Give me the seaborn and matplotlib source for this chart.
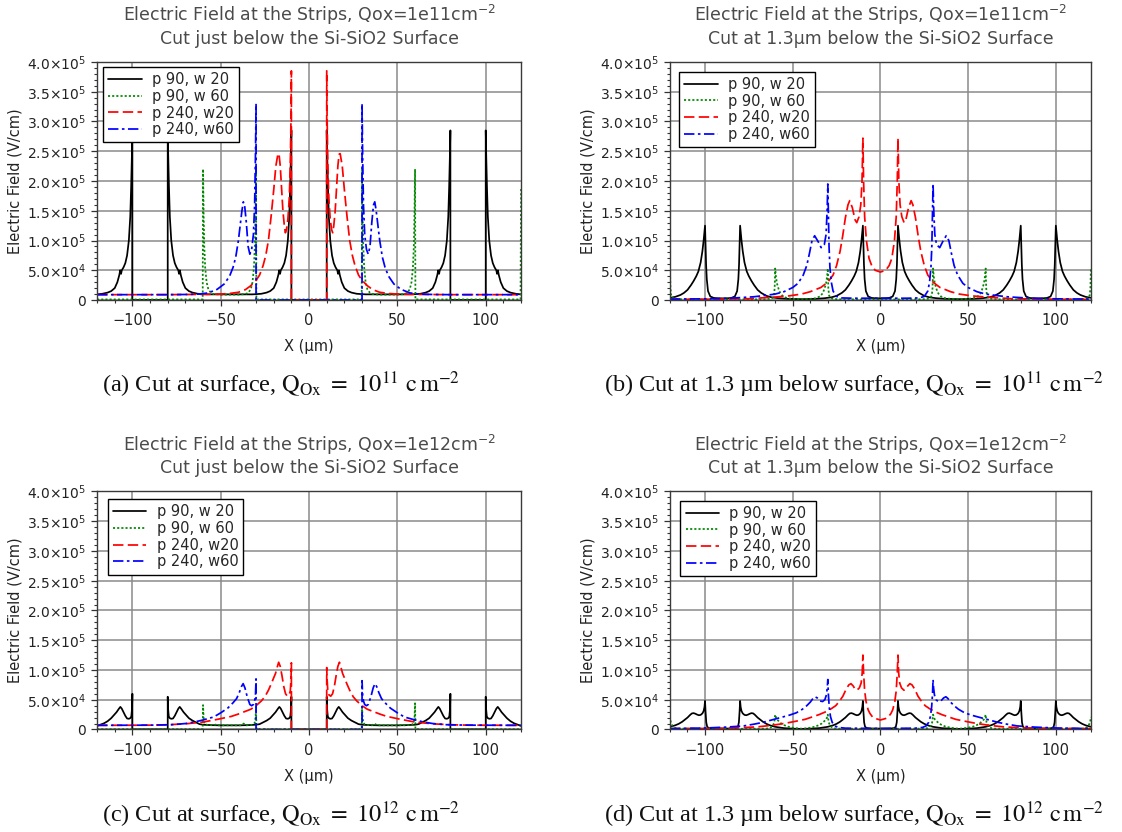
import matplotlib
matplotlib.use("Agg")
import matplotlib.pyplot as plt
from matplotlib.ticker import MultipleLocator
import pandas as pd
import seaborn as sns

# ---------------------------------------------------------------------------
# Electric field profiles, (x [um], E [kV/cm]) along the cut line
# ---------------------------------------------------------------------------
SERIES = ["p 90, w 20", "p 90, w 60", "p 240, w20", "p 240, w60"]
COLORS = ["#000000", "#008800", "#ff0000", "#0000ff"]
DASHES = ["", (1.2, 1.2), (6, 2.5), (6, 2, 1.5, 2)]

X_TICKS = [-100, -50, 0, 50, 100]
Y_TICKS = [0, 5e4, 1e5, 1.5e5, 2e5, 2.5e5, 3e5, 3.5e5, 4e5]
Y_TICK_LABELS = ["0", "5.0×10$^{4}$", "1.0×10$^{5}$", "1.5×10$^{5}$", "2.0×10$^{5}$",
                 "2.5×10$^{5}$", "3.0×10$^{5}$", "3.5×10$^{5}$", "4.0×10$^{5}$"]

# (a) Qox = 1e11, surface
A_P90_W20 = [(-120, 9.5), (-117, 10.5), (-114, 12.5), (-112, 15), (-110, 20), (-108.5, 30), (-107.4, 42), (-106.9, 50), (-106.4, 44), (-106, 50), (-105, 55), (-104, 62), (-103, 75), (-102, 100), (-101.2, 140), (-100.7, 190), (-100.3, 240), (-100, 285), (-100, 0),
             (-80, 0), (-80, 285), (-79.7, 240), (-79.3, 190), (-78.8, 140), (-78, 100), (-77, 75), (-76, 62), (-75, 55), (-74, 50), (-73.6, 44), (-73.1, 50), (-72.6, 42), (-71.5, 30), (-70, 20), (-68, 15), (-66, 12.5), (-63, 10.5), (-58, 9.5),
             (-32, 9.5), (-27, 10.5), (-24, 12.5), (-22, 15), (-20, 20), (-18.5, 30), (-17.4, 42), (-16.9, 50), (-16.4, 44), (-16, 50), (-15, 55), (-14, 62), (-13, 75), (-12, 100), (-11.2, 140), (-10.7, 190), (-10.3, 240), (-10, 285), (-10, 0),
             (10, 0), (10, 285), (10.3, 240), (10.7, 190), (11.2, 140), (12, 100), (13, 75), (14, 62), (15, 55), (16, 50), (16.4, 44), (16.9, 50), (17.4, 42), (18.5, 30), (20, 20), (22, 15), (24, 12.5), (27, 10.5), (32, 9.5),
             (58, 9.5), (63, 10.5), (66, 12.5), (68, 15), (70, 20), (71.5, 30), (72.6, 42), (73.1, 50), (73.6, 44), (74, 50), (75, 55), (76, 62), (77, 75), (78, 100), (78.8, 140), (79.3, 190), (79.7, 240), (80, 285), (80, 0),
             (100, 0), (100, 285), (100.3, 240), (100.7, 190), (101.2, 140), (102, 100), (103, 75), (104, 62), (105, 55), (106, 50), (106.4, 44), (106.9, 50), (107.4, 42), (108.5, 30), (110, 20), (112, 15), (114, 12.5), (117, 10.5), (120, 9.5)]
A_P90_W60 = [(-120, 1), (-60.2, 1), (-60, 220), (-59.7, 150), (-59.3, 90), (-58.8, 55), (-58, 30), (-57, 18), (-55.5, 12), (-54, 10), (-50, 9), (-40, 9), (-36, 10), (-34.5, 12), (-33, 18), (-32, 30), (-31.2, 55), (-30.7, 90), (-30.3, 150), (-30, 220), (-29.8, 1),
             (29.8, 1), (30, 220), (30.3, 150), (30.7, 90), (31.2, 55), (32, 30), (33, 18), (34.5, 12), (36, 10), (40, 9), (50, 9), (54, 10), (55.5, 12), (57, 18), (58, 30), (58.8, 55), (59.3, 90), (59.7, 150), (60, 220), (60.2, 1), (119.7, 1), (120, 190)]
A_P240_W20 = [(-120, 9), (-80, 9), (-60, 9.5), (-50, 10), (-45, 11), (-40, 13), (-36, 17.5), (-33, 24), (-30, 33), (-28, 42), (-26, 58), (-24.5, 75), (-23, 100), (-21.5, 140), (-20, 185), (-18.8, 225), (-17.6, 246), (-17, 245), (-16.3, 225), (-15.5, 185), (-14.8, 150), (-14, 125), (-13.4, 113), (-12.8, 118), (-12, 135), (-11.2, 170), (-10.6, 230), (-10.2, 310), (-10, 385), (-10, 0),
              (10, 0), (10, 385), (10.2, 310), (10.6, 230), (11.2, 170), (12, 135), (12.8, 118), (13.4, 113), (14, 125), (14.8, 150), (15.5, 185), (16.3, 225), (17, 245), (17.6, 246), (18.8, 225), (20, 185), (21.5, 140), (23, 100), (24.5, 75), (26, 58), (28, 42), (30, 33), (33, 24), (36, 17.5), (40, 13), (45, 11), (50, 10), (60, 9.5), (80, 9), (120, 9)]
A_P240_W60 = [(-120, 9), (-80, 9), (-70, 9.3), (-62, 10), (-57, 12), (-52, 18), (-48, 27), (-45, 40), (-43, 55), (-41.5, 72), (-40, 100), (-39, 125), (-38, 150), (-37.2, 165), (-36.5, 160), (-35.5, 130), (-34.5, 90), (-33.5, 77), (-32.5, 85), (-31.5, 110), (-30.8, 160), (-30.3, 250), (-30, 330), (-30, 0),
              (30, 0), (30, 330), (30.3, 250), (30.8, 160), (31.5, 110), (32.5, 85), (33.5, 77), (34.5, 90), (35.5, 130), (36.5, 160), (37.2, 165), (38, 150), (39, 125), (40, 100), (41.5, 72), (43, 55), (45, 40), (48, 27), (52, 18), (57, 12), (62, 10), (70, 9.3), (80, 9), (120, 9)]

# (b) Qox = 1e11, 1.3 um below surface
B_P90_W20 = [(-120, 3.7), (-117, 5.3), (-114, 8.5), (-112, 12), (-110, 17), (-108, 25), (-106.5, 32), (-105, 40), (-103.8, 48), (-102.5, 63), (-101.5, 82), (-100.8, 100), (-100.3, 115), (-100, 125),
             (-99.7, 95), (-99.4, 60), (-99, 35), (-98.3, 15), (-97, 6), (-95, 3.5), (-93, 3), (-90, 2.8), (-87, 3), (-85, 3.5), (-83, 6), (-81.7, 15), (-81, 35), (-80.6, 60), (-80.3, 95), (-80, 125),
             (-79.7, 115), (-79.2, 100), (-78.5, 82), (-77.5, 63), (-76.2, 48), (-75, 40), (-73.5, 32), (-72, 25), (-70, 17), (-68, 12), (-65, 7), (-62, 4.5), (-58, 3), (-53, 2), (-45, 1.5), (-37, 2), (-32, 3), (-28, 4.5), (-25, 7), (-22, 12), (-20, 17), (-18, 25), (-16.5, 32), (-15, 40), (-13.8, 48), (-12.5, 63), (-11.5, 82), (-10.8, 100), (-10.3, 115), (-10, 125),
             (-9.7, 95), (-9.4, 60), (-9, 35), (-8.3, 15), (-7, 6), (-5, 3.5), (-3, 3), (0, 2.8), (3, 3), (5, 3.5), (7, 6), (8.3, 15), (9, 35), (9.4, 60), (9.7, 95), (10, 125),
             (10.3, 115), (10.8, 100), (11.5, 82), (12.5, 63), (13.8, 48), (15, 40), (16.5, 32), (18, 25), (20, 17), (22, 12), (25, 7), (28, 4.5), (32, 3), (37, 2), (45, 1.5), (53, 2), (58, 3), (62, 4.5), (65, 7), (68, 12), (70, 17), (72, 25), (73.5, 32), (75, 40), (76.2, 48), (77.5, 63), (78.5, 82), (79.2, 100), (79.7, 115), (80, 125),
             (80.3, 95), (80.6, 60), (81, 35), (81.7, 15), (83, 6), (85, 3.5), (87, 3), (90, 2.8), (93, 3), (95, 3.5), (97, 6), (98.3, 15), (99, 35), (99.4, 60), (99.7, 95), (100, 125),
             (100.3, 115), (100.8, 100), (101.5, 82), (102.5, 63), (103.8, 48), (105, 40), (106.5, 32), (108, 25), (110, 17), (112, 12), (114, 8.5), (117, 5.3), (120, 3.7)]
B_P90_W60 = [(-120, 53), (-119.7, 20), (-119.3, 8), (-118.5, 3.5), (-117, 2), (-114, 1.3), (-100, 1), (-80, 1), (-66, 1.3), (-63, 2), (-61.5, 3.5), (-60.7, 8), (-60.3, 20), (-60, 53), (-59.6, 40), (-59, 28), (-58, 18), (-57, 11), (-55.5, 6), (-53, 3), (-50, 2), (-45, 1.8), (-40, 2), (-37, 3), (-34.5, 6), (-33, 11), (-32, 18), (-31, 28), (-30.4, 40), (-30, 53),
             (-29.7, 20), (-29.3, 8), (-28.5, 3.5), (-27, 2), (-24, 1.3), (-10, 1), (10, 1), (24, 1.3), (27, 2), (28.5, 3.5), (29.3, 8), (29.7, 20), (30, 53), (30.4, 40), (31, 28), (32, 18), (33, 11), (34.5, 6), (37, 3), (40, 2), (45, 1.8), (50, 2), (53, 3), (55.5, 6), (57, 11), (58, 18), (59, 28), (59.6, 40), (60, 53),
             (60.3, 20), (60.7, 8), (61.5, 3.5), (63, 2), (66, 1.3), (80, 1), (100, 1), (114, 1.3), (117, 2), (118.5, 3.5), (119.3, 8), (119.7, 20), (120, 53)]
B_P240_W20 = [(-120, 1), (-100, 1.3), (-75, 2.2), (-60, 5), (-52, 7), (-45, 10), (-40, 14), (-34, 21), (-30, 30), (-27, 42), (-25, 58), (-23, 82), (-21.5, 108), (-20, 138), (-18.5, 160), (-17.5, 167), (-16, 155), (-14.5, 135), (-13.5, 130), (-12.2, 140), (-11.2, 160), (-10.5, 200), (-10, 272), (-9.6, 200), (-9, 140), (-8, 100), (-6.5, 70), (-5, 58), (-3, 50),
              (0, 47), (3, 50), (5, 58), (6.5, 70), (8, 100), (9, 140), (9.6, 200), (10, 272), (10.5, 200), (11.2, 160), (12.2, 140), (13.5, 130), (14.5, 135), (16, 155), (17.5, 167), (18.5, 160), (20, 138), (21.5, 108), (23, 82), (25, 58), (27, 42), (30, 30), (34, 21), (40, 14), (45, 10), (52, 7), (60, 5), (75, 2.2), (100, 1.3), (120, 1)]
B_P240_W60 = [(-120, 1.5), (-100, 2), (-90, 2.5), (-80, 4), (-72, 5.5), (-65, 8), (-60, 10), (-55, 14), (-50, 21), (-47, 28), (-44, 42), (-42, 58), (-40.5, 78), (-39, 100), (-37.5, 108), (-35.5, 98), (-33.8, 88), (-32, 93), (-31, 110), (-30.4, 150), (-30, 195), (-29.7, 150), (-29.3, 90), (-28.8, 55), (-28, 30), (-27, 15), (-25, 6), (-22, 3.5), (-15, 3),
              (0, 3), (15, 3), (22, 3.5), (25, 6), (27, 15), (28, 30), (28.8, 55), (29.3, 90), (29.7, 150), (30, 195), (30.4, 150), (31, 110), (32, 93), (33.8, 88), (35.5, 98), (37.5, 108), (39, 100), (40.5, 78), (42, 58), (44, 42), (47, 28), (50, 21), (55, 14), (60, 10), (65, 8), (72, 5.5), (80, 4), (90, 2.5), (100, 2), (120, 1.5)]

# (c) Qox = 1e12, surface
C_P90_W20 = [(-120, 6), (-116, 10.5), (-114, 14), (-112, 19), (-110.5, 24), (-109, 29), (-107.6, 35), (-106.8, 38), (-106, 35), (-105, 29), (-104, 23), (-103, 18.5), (-102, 18), (-101.2, 19), (-100.6, 22), (-100.2, 35), (-100, 60), (-100, 0),
             (-80, 0), (-80, 55), (-79.8, 35), (-79.4, 22), (-78.8, 19), (-78, 18), (-77, 18.5), (-76, 23), (-75, 29), (-74, 35), (-73.2, 38), (-72.4, 35), (-71, 29), (-69.5, 24), (-68, 19), (-66, 15), (-64, 12), (-62, 9), (-60, 8), (-55, 7.3), (-50, 7),
             (-40, 7), (-35, 7.3), (-30, 8), (-28, 9), (-26, 12), (-24, 15), (-22, 19), (-20.5, 24), (-19, 29), (-17.6, 35), (-16.8, 38), (-16, 35), (-15, 29), (-14, 23), (-13, 18.5), (-12, 18), (-11.2, 19), (-10.6, 22), (-10.2, 35), (-10, 55), (-10, 0),
             (10, 0), (10, 55), (10.2, 35), (10.6, 22), (11.2, 19), (12, 18), (13, 18.5), (14, 23), (15, 29), (16, 35), (16.8, 38), (17.6, 35), (19, 29), (20.5, 24), (22, 19), (24, 15), (26, 12), (28, 9), (30, 8), (35, 7.3), (40, 7),
             (50, 7), (55, 7.3), (60, 8), (62, 9), (64, 12), (66, 15), (68, 19), (69.5, 24), (71, 29), (72.4, 35), (73.2, 38), (74, 35), (75, 29), (76, 23), (77, 18.5), (78, 18), (78.8, 19), (79.4, 22), (79.8, 35), (80, 60), (80, 0),
             (100, 0), (100, 55), (100.2, 35), (100.6, 22), (101.2, 19), (102, 18), (103, 18.5), (104, 23), (105, 29), (106, 35), (106.8, 38), (107.6, 35), (109, 29), (110.5, 24), (112, 19), (114, 14), (116, 10.5), (120, 6)]
C_P90_W60 = [(-120, 0.5), (-60.2, 0.5), (-60, 41), (-59.7, 20), (-59.2, 11), (-58.5, 8.5), (-57, 7.5), (-54, 7), (-52.5, 8.5), (-51.5, 7), (-45, 7), (-38.5, 7), (-37, 10), (-35.5, 7), (-33, 7.5), (-31.5, 8.5), (-30.8, 11), (-30.3, 20), (-30, 38), (-29.8, 0.5),
             (29.8, 0.5), (30, 38), (30.3, 20), (30.8, 11), (31.5, 8.5), (33, 7.5), (35.5, 7), (37, 10), (38.5, 7), (45, 7), (51.5, 7), (52.5, 8.5), (54, 7), (57, 7.5), (58.5, 8.5), (59.2, 11), (59.7, 20), (60, 44), (60.2, 0.5), (120, 0.5)]
C_P240_W20 = [(-120, 7), (-90, 7.3), (-80, 8), (-70, 9.5), (-60, 12.5), (-52, 17), (-44, 22), (-40, 26), (-36.5, 30), (-33, 34), (-30, 40), (-27, 48), (-25, 55), (-23, 66), (-21.5, 76), (-20, 87), (-19, 94), (-18, 105), (-17.2, 113), (-16.3, 106), (-15.3, 90), (-14.3, 72), (-13.3, 60), (-12.3, 56), (-11.3, 58), (-10.6, 65), (-10.2, 85), (-10, 112), (-10, 0),
              (10, 0), (10, 104), (10.2, 85), (10.6, 65), (11.3, 58), (12.3, 56), (13.3, 60), (14.3, 72), (15.3, 90), (16.3, 106), (17.2, 113), (18, 105), (19, 94), (20, 87), (21.5, 76), (23, 66), (25, 55), (27, 48), (30, 40), (33, 34), (36.5, 30), (40, 26), (44, 22), (52, 17), (60, 12.5), (70, 9.5), (80, 8), (90, 7.3), (120, 7)]
C_P240_W60 = [(-120, 7), (-90, 7.3), (-78, 8), (-70, 10), (-65, 12.5), (-60, 16), (-54, 21), (-50, 28), (-46, 36), (-43, 45), (-41, 52), (-39.5, 62), (-38.3, 72), (-37.3, 77), (-36.3, 70), (-35, 55), (-33.5, 42), (-32.5, 40), (-31.5, 42), (-30.8, 48), (-30.3, 60), (-30, 85), (-30, 0),
              (30, 0), (30, 82), (30.3, 60), (30.8, 48), (31.5, 42), (32.5, 40), (33.5, 42), (35, 55), (36.3, 70), (37.3, 77), (38.3, 72), (39.5, 62), (41, 52), (43, 45), (46, 36), (50, 28), (54, 21), (60, 16), (65, 12.5), (70, 10), (78, 8), (90, 7.3), (120, 7)]

# (d) Qox = 1e12, 1.3 um below surface
D_P90_W20 = [(-120, 4.5), (-117, 7), (-115, 9.5), (-113, 13), (-111.5, 16.5), (-110, 20), (-108.5, 24.5), (-107.5, 27), (-106.5, 27.5), (-105.5, 26.5), (-104.5, 25), (-103.5, 24), (-102.5, 24.5), (-101.5, 27), (-100.8, 31), (-100.3, 38), (-100, 48),
             (-99.7, 30), (-99.3, 12), (-98.8, 5), (-98, 2.5), (-96, 1.7), (-90, 1.5), (-84, 1.7), (-82, 2.5), (-81.2, 5), (-80.7, 12), (-80.3, 30), (-80, 48),
             (-79.7, 38), (-79.2, 31), (-78.5, 27), (-77.5, 24.5), (-76.5, 24), (-75.5, 25), (-74.5, 26.5), (-73.5, 27.5), (-72.5, 27), (-71.5, 24.5), (-70, 20), (-68.5, 16.5), (-67, 13), (-65, 9.5), (-63, 7), (-60, 4.5), (-55, 2.3), (-50, 1.4), (-45, 1.0),
             (-40, 1.4), (-35, 2.3), (-30, 4.5), (-27, 7), (-25, 9.5), (-23, 13), (-21.5, 16.5), (-20, 20), (-18.5, 24.5), (-17.5, 27), (-16.5, 27.5), (-15.5, 26.5), (-14.5, 25), (-13.5, 24), (-12.5, 24.5), (-11.5, 27), (-10.8, 31), (-10.3, 38), (-10, 48),
             (-9.7, 30), (-9.3, 12), (-8.8, 5), (-8, 2.5), (-6, 1.7), (0, 1.5), (6, 1.7), (8, 2.5), (8.8, 5), (9.3, 12), (9.7, 30), (10, 48),
             (10.3, 38), (10.8, 31), (11.5, 27), (12.5, 24.5), (13.5, 24), (14.5, 25), (15.5, 26.5), (16.5, 27.5), (17.5, 27), (18.5, 24.5), (20, 20), (21.5, 16.5), (23, 13), (25, 9.5), (27, 7), (30, 4.5), (35, 2.3), (40, 1.4), (45, 1.0),
             (50, 1.4), (55, 2.3), (60, 4.5), (63, 7), (65, 9.5), (67, 13), (68.5, 16.5), (70, 20), (71.5, 24.5), (72.5, 27), (73.5, 27.5), (74.5, 26.5), (75.5, 25), (76.5, 24), (77.5, 24.5), (78.5, 27), (79.2, 31), (79.7, 38), (80, 48),
             (80.3, 30), (80.7, 12), (81.2, 5), (82, 2.5), (84, 1.7), (90, 1.5), (96, 1.7), (98, 2.5), (98.8, 5), (99.3, 12), (99.7, 30), (100, 48),
             (100.3, 38), (100.8, 31), (101.5, 27), (102.5, 24.5), (103.5, 24), (104.5, 25), (105.5, 26.5), (106.5, 27.5), (107.5, 27), (108.5, 24.5), (110, 20), (111.5, 16.5), (113, 13), (115, 9.5), (117, 7), (120, 4.5)]
D_P90_W60 = [(-120, 22), (-119.5, 12), (-118.5, 5.6), (-117, 2.5), (-115, 1.5), (-100, 1.2), (-80, 1.2), (-65, 1.5), (-63, 2.5), (-61.5, 5.6), (-60.5, 12), (-60, 25), (-59.5, 20), (-59, 17), (-58, 14), (-56.5, 10), (-55, 7.5), (-53, 5), (-50, 3), (-47, 1.8), (-45, 1.4),
             (-43, 1.8), (-40, 3), (-37, 5), (-35, 7.5), (-33.5, 10), (-32, 14), (-31, 17), (-30.5, 20), (-30, 25), (-29.5, 12), (-28.5, 5.6), (-27, 2.5), (-25, 1.5), (-10, 1.2),
             (10, 1.2), (25, 1.5), (27, 2.5), (28.5, 5.6), (29.5, 12), (30, 25), (30.5, 20), (31, 17), (32, 14), (33.5, 10), (35, 7.5), (37, 5), (40, 3), (43, 1.8), (45, 1.4),
             (47, 1.8), (50, 3), (53, 5), (55, 7.5), (56.5, 10), (58, 14), (59, 17), (59.5, 20), (60, 25), (60.5, 12), (61.5, 5.6), (63, 2.5), (65, 1.5), (80, 1.2), (100, 1.2), (115, 1.5), (117, 2.5), (118.5, 5.6), (119.5, 12), (120, 21)]
D_P240_W20 = [(-120, 1.5), (-100, 1.7), (-90, 2), (-77, 3.4), (-70, 4.5), (-62, 7), (-55, 10), (-48, 14), (-43, 17), (-39, 21), (-35, 25), (-31, 30), (-28, 35), (-25.5, 40), (-23.5, 47), (-21.4, 56), (-19.5, 68), (-18, 75), (-16.8, 77), (-15.5, 73), (-14.5, 68), (-13.4, 66), (-12, 70), (-11, 78), (-10.4, 95), (-10, 125),
              (-9.6, 95), (-9, 65), (-8.2, 47), (-7, 33), (-6, 27), (-4.5, 21), (-3, 18.5), (0, 16), (3, 18.5), (4.5, 21), (6, 27), (7, 33), (8.2, 47), (9, 65), (9.6, 95),
              (10, 125), (10.4, 95), (11, 78), (12, 70), (13.4, 66), (14.5, 68), (15.5, 73), (16.8, 77), (18, 75), (19.5, 68), (21.4, 56), (23.5, 47), (25.5, 40), (28, 35), (31, 30), (35, 25), (39, 21), (43, 17), (48, 14), (55, 10), (62, 7), (70, 4.5), (77, 3.4), (90, 2), (100, 1.7), (120, 1.5)]
D_P240_W60 = [(-120, 1.5), (-100, 2.5), (-88, 4), (-78, 6), (-72, 9), (-67, 12), (-62, 16), (-57, 20), (-52, 24), (-48, 28), (-44.5, 34), (-42, 40), (-40, 46), (-38.5, 52), (-37.3, 55), (-36, 53), (-34.5, 48), (-33, 47), (-31.7, 50), (-30.8, 58), (-30.3, 70), (-30, 84),
              (-29.7, 60), (-29.2, 38), (-28.5, 22), (-27.5, 12), (-26, 6), (-24, 3.5), (-20, 2.2), (0, 1.7), (20, 2.2), (24, 3.5), (26, 6), (27.5, 12), (28.5, 22), (29.2, 38), (29.7, 60),
              (30, 84), (30.3, 70), (30.8, 58), (31.7, 50), (33, 47), (34.5, 48), (36, 53), (37.3, 55), (38.5, 52), (40, 46), (42, 40), (44.5, 34), (48, 28), (52, 24), (57, 20), (62, 16), (67, 12), (72, 9), (78, 6), (88, 4), (100, 2.5), (120, 1.5)]

TITLES = [
    "Electric Field at the Strips, Qox=1e11cm$^{-2}$\nCut just below the Si-SiO2 Surface",
    "Electric Field at the Strips, Qox=1e11cm$^{-2}$\nCut at 1.3μm below the Si-SiO2 Surface",
    "Electric Field at the Strips, Qox=1e12cm$^{-2}$\nCut just below the Si-SiO2 Surface",
    "Electric Field at the Strips, Qox=1e12cm$^{-2}$\nCut at 1.3μm below the Si-SiO2 Surface",
]
CAPTIONS = [
    r"(a) Cut at surface, $\mathrm{Q_{Ox}}\ =\ 10^{11}\ \mathrm{c\,m}^{-2}$",
    r"(b) Cut at 1.3 µm below surface, $\mathrm{Q_{Ox}}\ =\ 10^{11}\ \mathrm{c\,m}^{-2}$",
    r"(c) Cut at surface, $\mathrm{Q_{Ox}}\ =\ 10^{12}\ \mathrm{c\,m}^{-2}$",
    r"(d) Cut at 1.3 µm below surface, $\mathrm{Q_{Ox}}\ =\ 10^{12}\ \mathrm{c\,m}^{-2}$",
]
PANEL_DATA = [
    [A_P90_W20, A_P90_W60, A_P240_W20, A_P240_W60],
    [B_P90_W20, B_P90_W60, B_P240_W20, B_P240_W60],
    [C_P90_W20, C_P90_W60, C_P240_W20, C_P240_W60],
    [D_P90_W20, D_P90_W60, D_P240_W20, D_P240_W60],
]

# ---------------------------------------------------------------------------
# Layout (figure fractions) for the 2x2 grid
# ---------------------------------------------------------------------------
AX_RECTS = [
    [0.0865, 0.6394, 0.3779, 0.2861],
    [0.5971, 0.6394, 0.3752, 0.2861],
    [0.0865, 0.1232, 0.3779, 0.2861],
    [0.5971, 0.1232, 0.3752, 0.2861],
]
LEGEND_ANCHORS = [(0.014, 0.979), (0.022, 0.959), (0.025, 0.968), (0.025, 0.961)]
CAPTION_XY = [(0.2504, 0.5288), (0.7611, 0.5288), (0.2504, 0.0120), (0.7611, 0.0120)]

sns.set_theme(style="white")
plt.rcParams.update({
    "font.family": ["DejaVu Sans"],
    "mathtext.fontset": "dejavusans",
    "axes.edgecolor": "#3a3a3a",
    "axes.linewidth": 1.0,
    "xtick.bottom": True,
    "ytick.left": True,
    "xtick.direction": "out",
    "ytick.direction": "out",
    "xtick.color": "#333333",
    "ytick.color": "#333333",
    "xtick.labelcolor": "#222222",
    "ytick.labelcolor": "#222222",
})

fig = plt.figure(figsize=(11.22, 8.32), dpi=100)

for rect, series_set, title, caption, anchor, cxy in zip(
        AX_RECTS, PANEL_DATA, TITLES, CAPTIONS, LEGEND_ANCHORS, CAPTION_XY):
    ax = fig.add_axes(rect)
    rows = [(name, x, e * 1e3) for name, pts in zip(SERIES, series_set) for x, e in pts]
    df = pd.DataFrame(rows, columns=["series", "x", "E"])
    sns.lineplot(data=df, x="x", y="E", hue="series", style="series",
                 hue_order=SERIES, style_order=SERIES, palette=COLORS,
                 dashes=DASHES, sort=False, estimator=None, linewidth=1.25, ax=ax)

    ax.set_xlim(-120, 120)
    ax.set_ylim(0, 4e5)
    ax.set_xticks(X_TICKS)
    ax.set_yticks(Y_TICKS, Y_TICK_LABELS)
    ax.xaxis.set_minor_locator(MultipleLocator(10))
    ax.yaxis.set_minor_locator(MultipleLocator(1e4))
    ax.tick_params(which="major", length=4.5, width=0.9, pad=3.5)
    ax.tick_params(axis="y", which="major", labelsize=10)
    ax.tick_params(axis="x", which="major", labelsize=10.5, pad=5)
    ax.tick_params(which="minor", length=2.5, width=0.8)
    ax.grid(True, which="major", color="#8a8a8a", linewidth=1.1)
    ax.set_axisbelow(True)

    ax.set_xlabel("X (μm)", fontsize=10.5, labelpad=8, color="#222222")
    ax.set_ylabel("Electric Field (V/cm)", fontsize=10.5, labelpad=3, color="#222222")
    ax.set_title(title, fontsize=12.5, color="#4a4a4a", pad=13, linespacing=1.2)

    sns.move_legend(ax, "upper left", bbox_to_anchor=anchor, borderaxespad=0,
                    title=None, frameon=True, fancybox=False, edgecolor="black",
                    framealpha=1, fontsize=10.5, handlelength=2.3, labelspacing=0.12,
                    borderpad=0.35, handletextpad=0.7)
    ax.get_legend().get_frame().set_linewidth(1.0)

    fig.text(cxy[0], cxy[1], caption, ha="center", va="baseline", fontsize=17.5,
             family="Liberation Serif", math_fontfamily="stix", color="#111111")

fig.savefig("out.png", dpi=100)
